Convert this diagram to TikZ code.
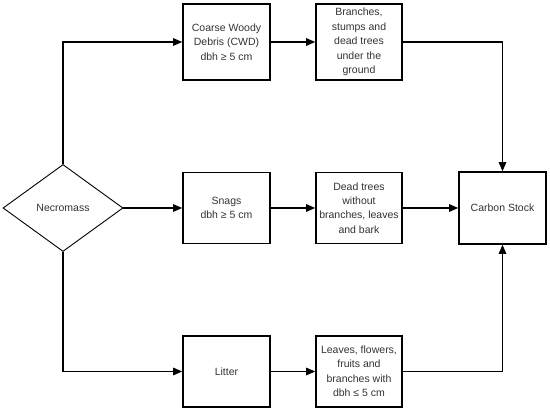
\documentclass[tikz,border=0pt]{standalone}
\usepackage{fontspec}
\setmainfont{Liberation Sans}
\usepackage{xcolor}
\usetikzlibrary{arrows.meta,shapes.geometric}
\definecolor{NMInk}{HTML}{000000}
\definecolor{NMText}{HTML}{333333}
\tikzset{
  nmbox/.style={draw=NMInk,line width=1.6pt,rectangle,inner sep=2pt,align=center,
    text=NMText,font=\fontsize{10.5}{14.5}\selectfont},
  nmlink/.style={draw=NMInk,line width=1.1pt,-{Triangle[length=9pt,width=7.5pt]}}
}

\begin{document}
\begin{tikzpicture}[x=1pt,y=-1pt]
\path[use as bounding box] (0,0) rectangle (550,411);
\fill[white] (0,0) rectangle (550,411);
% source
\node[diamond,draw=NMInk,line width=0.9pt,inner sep=0pt,minimum width=120pt,minimum height=87pt,
  text=NMText,font=\fontsize{10.5}{14.5}\selectfont] (necro) at (63,208) {Necromass};
% first column
\node[nmbox,minimum width=87pt,minimum height=76pt] (cwd) at (226.5,42) {Coarse Woody\\Debris (CWD)\\dbh ≥ 5 cm};
\node[nmbox,minimum width=87pt,minimum height=71pt] (snags) at (226.5,208) {Snags\\dbh ≥ 5 cm};
\node[nmbox,minimum width=87pt,minimum height=71pt] (litter) at (226.5,371.5) {Litter};
% second column
\node[nmbox,minimum width=86pt,minimum height=76pt] (branches) at (359,42) {Branches,\\stumps and\\dead trees\\under the\\ground};
\node[nmbox,minimum width=86pt,minimum height=71pt] (dead) at (359,208) {Dead trees\\without\\branches, leaves\\and bark};
\node[nmbox,minimum width=86pt,minimum height=71pt] (leaves) at (359,371.5) {Leaves, flowers,\\fruits and\\branches with\\dbh ≤ 5 cm};
% sink
\node[nmbox,minimum width=87pt,minimum height=72pt] (carbon) at (502.5,208) {Carbon Stock};
% connectors
\draw[nmlink] (necro.north) |- (cwd.west);
\draw[nmlink] (necro.east) -- (snags.west);
\draw[nmlink] (necro.south) |- (litter.west);
\draw[nmlink] (cwd) -- (branches);
\draw[nmlink] (snags) -- (dead);
\draw[nmlink] (litter) -- (leaves);
\draw[nmlink] (branches.east) -| (carbon.north);
\draw[nmlink] (dead.east) -- (carbon.west);
\draw[nmlink] (leaves.east) -| (carbon.south);
\end{tikzpicture}
\end{document}
